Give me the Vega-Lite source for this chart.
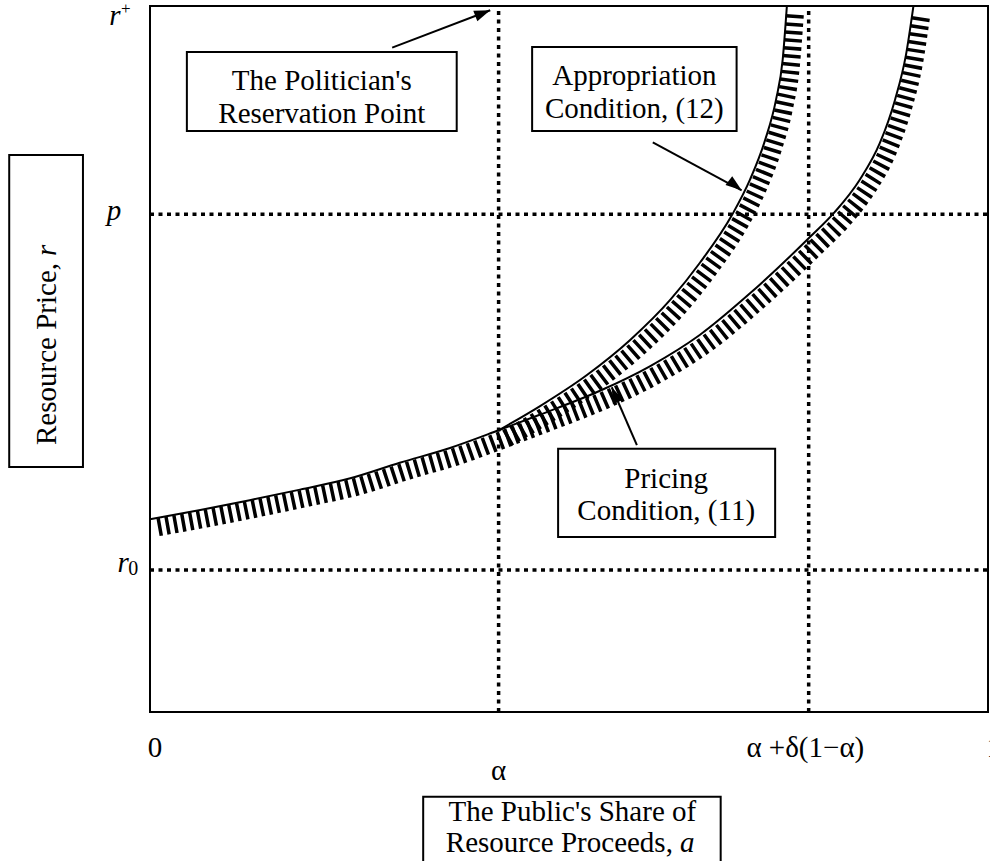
{
  "$schema": "https://vega.github.io/schema/vega-lite/v6.json",
  "width": 838,
  "height": 706,
  "autosize": {"type": "none"},
  "padding": {"left": 150, "top": 6, "right": 2, "bottom": 149},
  "background": "white",
  "config": {
    "view": {"stroke": "black", "strokeWidth": 2},
    "text": {"font": "Liberation Serif", "fontSize": 29, "color": "black"}
  },
  "datasets": {
    "curves": [
      {"curve": "Pricing", "a": 0.0, "r": 0.273},
      {"curve": "Pricing", "a": 0.06, "r": 0.286},
      {"curve": "Pricing", "a": 0.119, "r": 0.3},
      {"curve": "Pricing", "a": 0.179, "r": 0.315},
      {"curve": "Pricing", "a": 0.239, "r": 0.331},
      {"curve": "Pricing", "a": 0.298, "r": 0.353},
      {"curve": "Pricing", "a": 0.358, "r": 0.374},
      {"curve": "Pricing", "a": 0.416, "r": 0.399},
      {"curve": "Pricing", "a": 0.465, "r": 0.421},
      {"curve": "Pricing", "a": 0.537, "r": 0.455},
      {"curve": "Pricing", "a": 0.597, "r": 0.49},
      {"curve": "Pricing", "a": 0.656, "r": 0.534},
      {"curve": "Pricing", "a": 0.716, "r": 0.593},
      {"curve": "Pricing", "a": 0.786, "r": 0.671},
      {"curve": "Pricing", "a": 0.817, "r": 0.708},
      {"curve": "Pricing", "a": 0.847, "r": 0.754},
      {"curve": "Pricing", "a": 0.871, "r": 0.806},
      {"curve": "Pricing", "a": 0.889, "r": 0.867},
      {"curve": "Pricing", "a": 0.902, "r": 0.93},
      {"curve": "Pricing", "a": 0.911, "r": 1.0},
      {"curve": "Appropriation", "a": 0.416, "r": 0.399},
      {"curve": "Appropriation", "a": 0.465, "r": 0.433},
      {"curve": "Appropriation", "a": 0.521, "r": 0.477},
      {"curve": "Appropriation", "a": 0.573, "r": 0.527},
      {"curve": "Appropriation", "a": 0.621, "r": 0.584},
      {"curve": "Appropriation", "a": 0.656, "r": 0.636},
      {"curve": "Appropriation", "a": 0.695, "r": 0.705},
      {"curve": "Appropriation", "a": 0.716, "r": 0.754},
      {"curve": "Appropriation", "a": 0.734, "r": 0.81},
      {"curve": "Appropriation", "a": 0.747, "r": 0.867},
      {"curve": "Appropriation", "a": 0.755, "r": 0.924},
      {"curve": "Appropriation", "a": 0.76, "r": 1.0}
    ],
    "guides": [
      {"name": "alpha", "a": 0.416, "r": 0, "a2": 0.416, "r2": 1},
      {"name": "alpha+delta(1-alpha)", "a": 0.786, "r": 0, "a2": 0.786, "r2": 1},
      {"name": "p", "a": 0, "r": 0.705, "a2": 1, "r2": 0.705},
      {"name": "r0", "a": 0, "r": 0.201, "a2": 1, "r2": 0.201}
    ],
    "boxes": [
      {"box": "politician", "a": 0.044, "a2": 0.366, "r": 0.935, "r2": 0.823},
      {"box": "appropriation", "a": 0.456, "a2": 0.7, "r": 0.942, "r2": 0.823},
      {"box": "pricing", "a": 0.487, "a2": 0.746, "r": 0.373, "r2": 0.248},
      {"box": "ytitle", "a": -0.168, "a2": -0.08, "r": 0.789, "r2": 0.347},
      {"box": "xtitle", "a": 0.326, "a2": 0.681, "r": -0.12, "r2": -0.235}
    ],
    "arrows": [
      {"arrow": "politician", "a": 0.289, "r": 0.941, "a2": 0.406, "r2": 0.994},
      {"arrow": "appropriation", "a": 0.6, "r": 0.807, "a2": 0.706, "r2": 0.739},
      {"arrow": "pricing", "a": 0.581, "r": 0.378, "a2": 0.551, "r2": 0.46}
    ]
  },
  "encoding": {
    "x": {"field": "a", "type": "quantitative", "scale": {"domain": [0, 1], "nice": false, "zero": false}, "axis": null},
    "y": {"field": "r", "type": "quantitative", "scale": {"domain": [0, 1], "nice": false, "zero": false}, "axis": null}
  },
  "layer": [
    {
      "data": {"name": "guides"},
      "mark": {"type": "rule", "color": "black", "strokeWidth": 3.5, "strokeDash": [4, 4.5], "strokeCap": "butt"},
      "encoding": {"x2": {"field": "a2"}, "y2": {"field": "r2"}}
    },
    {
      "data": {"name": "curves"},
      "mark": {"type": "line", "color": "black", "strokeWidth": 18, "strokeDash": [3.5, 4.5], "strokeCap": "butt", "interpolate": "monotone", "xOffset": 8, "yOffset": 8},
      "encoding": {"detail": {"field": "curve"}}
    },
    {
      "data": {"name": "curves"},
      "mark": {"type": "line", "color": "black", "strokeWidth": 2, "interpolate": "monotone"},
      "encoding": {"detail": {"field": "curve"}}
    },
    {
      "data": {"name": "boxes"},
      "mark": {"type": "rect", "fill": "white", "stroke": "black", "strokeWidth": 2},
      "encoding": {"x2": {"field": "a2"}, "y2": {"field": "r2"}}
    },
    {
      "data": {"name": "arrows"},
      "mark": {"type": "rule", "color": "black", "strokeWidth": 2},
      "encoding": {"x2": {"field": "a2"}, "y2": {"field": "r2"}}
    },
    {
      "data": {"name": "arrows"},
      "transform": [{"filter": "datum.arrow === 'politician'"}],
      "mark": {"type": "point", "shape": "M0,0L0.35,1L-0.35,1Z", "filled": true, "color": "black", "opacity": 1, "size": 1024, "angle": 68.8},
      "encoding": {"x": {"field": "a2", "type": "quantitative"}, "y": {"field": "r2", "type": "quantitative"}}
    },
    {
      "data": {"name": "arrows"},
      "transform": [{"filter": "datum.arrow === 'appropriation'"}],
      "mark": {"type": "point", "shape": "M0,0L0.35,1L-0.35,1Z", "filled": true, "color": "black", "opacity": 1, "size": 1024, "angle": 127},
      "encoding": {"x": {"field": "a2", "type": "quantitative"}, "y": {"field": "r2", "type": "quantitative"}}
    },
    {
      "data": {"name": "arrows"},
      "transform": [{"filter": "datum.arrow === 'pricing'"}],
      "mark": {"type": "point", "shape": "M0,0L0.35,1L-0.35,1Z", "filled": true, "color": "black", "opacity": 1, "size": 1024, "angle": 336.7},
      "encoding": {"x": {"field": "a2", "type": "quantitative"}, "y": {"field": "r2", "type": "quantitative"}}
    },
    {
      "data": {"values": [
        {"label": "The Politician's", "a": 0.205, "r": 0.881},
        {"label": "Reservation Point", "a": 0.205, "r": 0.834},
        {"label": "Appropriation", "a": 0.578, "r": 0.888},
        {"label": "Condition, (12)", "a": 0.578, "r": 0.841},
        {"label": "Pricing", "a": 0.616, "r": 0.317},
        {"label": "Condition, (11)", "a": 0.616, "r": 0.272},
        {"label": "The Public's Share of", "a": 0.504, "r": -0.154},
        {"label": "0", "a": 0.006, "r": -0.064},
        {"label": "α +δ(1−α)", "a": 0.782, "r": -0.064},
        {"label": "1", "a": 1.007, "r": -0.064},
        {"label": "α", "a": 0.416, "r": -0.097}
      ]},
      "mark": {"type": "text", "align": "center", "baseline": "alphabetic"},
      "encoding": {"text": {"field": "label"}}
    },
    {
      "data": {"values": [{"label": "Resource Proceeds,", "a": 0.624, "r": -0.198}]},
      "mark": {"type": "text", "align": "right", "baseline": "alphabetic"},
      "encoding": {"text": {"field": "label"}}
    },
    {
      "data": {"values": [
        {"label": "a", "a": 0.641, "r": -0.198},
        {"label": "r", "a": -0.042, "r": 0.973},
        {"label": "p", "a": -0.043, "r": 0.697},
        {"label": "r", "a": -0.032, "r": 0.198}
      ]},
      "mark": {"type": "text", "align": "center", "baseline": "alphabetic", "fontStyle": "italic"},
      "encoding": {"text": {"field": "label"}}
    },
    {
      "data": {"values": [{"label": "+", "a": -0.029, "r": 0.989}]},
      "mark": {"type": "text", "align": "center", "baseline": "alphabetic", "fontSize": 17},
      "encoding": {"text": {"field": "label"}}
    },
    {
      "data": {"values": [{"label": "0", "a": -0.02, "r": 0.194}]},
      "mark": {"type": "text", "align": "center", "baseline": "alphabetic", "fontSize": 20},
      "encoding": {"text": {"field": "label"}}
    },
    {
      "data": {"values": [{"label": "Resource Price,", "a": -0.112, "r": 0.636}]},
      "mark": {"type": "text", "align": "right", "baseline": "alphabetic", "angle": 270},
      "encoding": {"text": {"field": "label"}}
    },
    {
      "data": {"values": [{"label": "r", "a": -0.112, "r": 0.646}]},
      "mark": {"type": "text", "align": "left", "baseline": "alphabetic", "angle": 270, "fontStyle": "italic"},
      "encoding": {"text": {"field": "label"}}
    }
  ]
}
